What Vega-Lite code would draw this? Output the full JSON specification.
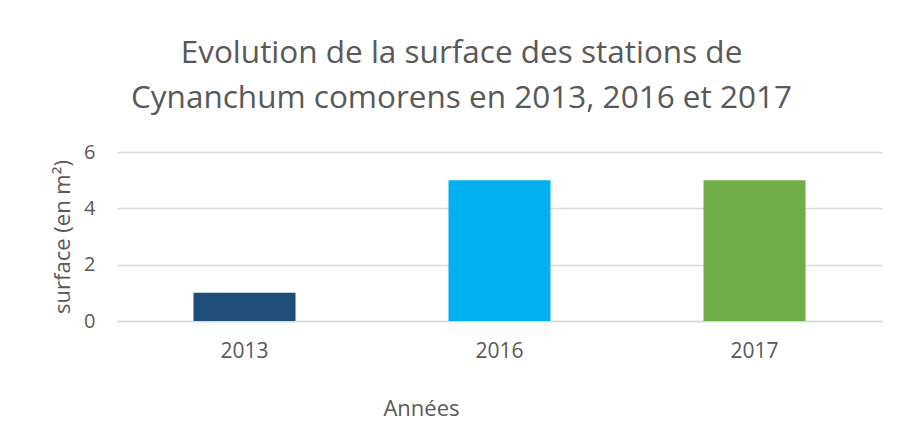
{
  "$schema": "https://vega.github.io/schema/vega-lite/v6.json",
  "width": 765,
  "height": 169,
  "autosize": {"type": "none"},
  "padding": {"left": 117, "top": 152, "right": 17, "bottom": 113},
  "background": "white",
  "title": {
    "text": ["Evolution de la surface des stations de", "Cynanchum comorens en 2013, 2016 et 2017"],
    "font": "Open Sans",
    "fontSize": 31.5,
    "fontWeight": "normal",
    "color": "#595959",
    "anchor": "middle",
    "lineHeight": 45,
    "offset": 28,
    "dx": -38
  },
  "data": {
    "values": [
      {"annee": "2013", "surface": 1},
      {"annee": "2016", "surface": 5},
      {"annee": "2017", "surface": 5}
    ]
  },
  "mark": {"type": "bar"},
  "encoding": {
    "x": {
      "field": "annee",
      "type": "nominal",
      "title": "Années",
      "scale": {"paddingInner": 0.6, "paddingOuter": 0.3},
      "axis": {
        "labelAngle": 0,
        "labelPadding": 19,
        "labelFontSize": 21,
        "titlePadding": 37,
        "titleFontSize": 22,
        "titleX": 304,
        "ticks": false,
        "domainColor": "#d9d9d9",
        "domainWidth": 1.5
      }
    },
    "y": {
      "field": "surface",
      "type": "quantitative",
      "title": "surface (en m²)",
      "scale": {"domain": [0, 6]},
      "axis": {
        "values": [0, 2, 4, 6],
        "domain": false,
        "ticks": false,
        "labelFontSize": 20,
        "labelPadding": 22,
        "titleFontSize": 22,
        "titlePadding": 9,
        "gridColor": "#d9d9d9",
        "gridWidth": 1.5
      }
    },
    "color": {
      "field": "annee",
      "type": "nominal",
      "scale": {"domain": ["2013", "2016", "2017"], "range": ["#1f4e79", "#00b0f0", "#70ad47"]},
      "legend": null
    }
  },
  "config": {
    "view": {"stroke": null},
    "axis": {
      "labelFont": "Open Sans",
      "titleFont": "Open Sans",
      "labelColor": "#595959",
      "titleColor": "#595959",
      "titleFontWeight": "normal"
    }
  }
}
